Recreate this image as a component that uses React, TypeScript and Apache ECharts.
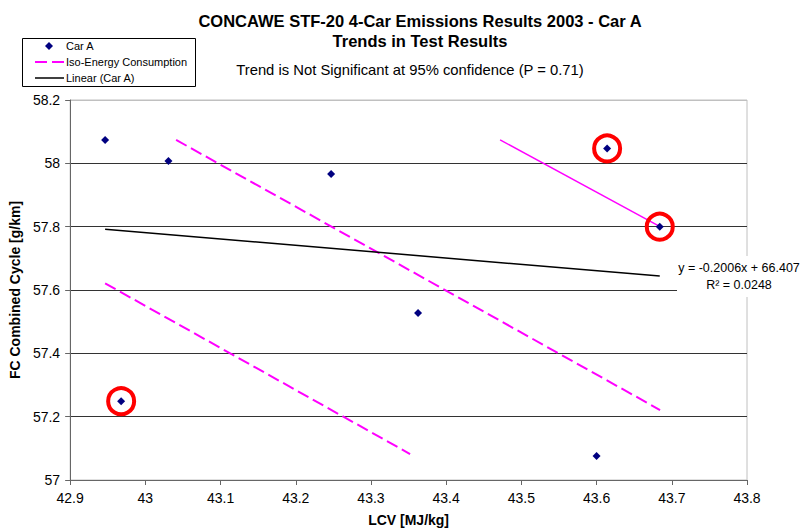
import React, { useEffect, useRef } from "react";
import * as echarts from "echarts";

// ---- Data ----
const carAX = [42.9465, 43.0307, 43.247, 43.3626, 43.614, 43.684, 42.9678, 43.6];
const carAY = [58.074, 58.007, 57.966, 57.527, 58.047, 57.8, 57.249, 57.076];
const circledIdx = [4, 5, 6];

const isoAX = [42.9465, 43.352];
const isoAY = [57.621, 57.082];
const isoBX = [43.0409, 43.6844];
const isoBY = [58.074, 57.221];
const isoCX = [43.4717, 43.6844];
const isoCY = [58.074, 57.8];

const trendX = [42.9465, 43.684];
const trendY = [57.792, 57.644];

const xMin = 42.9, xMax = 43.8, xStep = 0.1;
const yMin = 57, yMax = 58.2, yStep = 0.2;

const titleLines = [
  "CONCAWE STF-20 4-Car Emissions Results 2003 - Car A",
  "Trends in Test Results",
];
const subTitle = "Trend is Not Significant at 95% confidence (P = 0.71)";
const eqLine1 = "y = -0.2006x + 66.407";
const eqLine2 = "R\u00B2 = 0.0248";
const xName = "LCV [MJ/kg]";
const yName = "FC Combined Cycle [g/km]";
const legendNames = ["Car A", "Iso-Energy Consumption", "Linear (Car A)"];

const FONT = "'Liberation Sans', Arial, Helvetica, sans-serif";
const NAVY = "#000080";
const MAGENTA = "#FF00FF";
const DASH = [12, 5];

const pairs = (xs: number[], ys: number[]) => xs.map((x, i) => [x, ys[i]]);

export default function App() {
  const ref = useRef<HTMLDivElement>(null);
  useEffect(() => {
    if (!ref.current) return;
    const chart = echarts.init(ref.current, undefined, { renderer: "svg" });
    const carA = pairs(carAX, carAY);
    const circled = circledIdx.map((i) => carA[i]);

    // legend box (drawn as graphic for exact icon styles)
    const lgX = 22, lgY = 38, lgW = 173, lgH = 48, rowY = [46, 62, 78];
    const legendGraphic: any[] = [
      {
        type: "rect",
        shape: { x: lgX + 0.5, y: lgY + 0.5, width: lgW, height: lgH },
        style: { fill: "#fff", stroke: "#000", lineWidth: 1 },
      },
      {
        type: "polygon",
        shape: { points: [[49, rowY[0] - 4], [53, rowY[0]], [49, rowY[0] + 4], [45, rowY[0]]] },
        style: { fill: NAVY },
      },
      {
        type: "line",
        shape: { x1: 35, y1: rowY[1], x2: 64, y2: rowY[1] },
        style: { stroke: MAGENTA, lineWidth: 2, lineDash: DASH },
      },
      {
        type: "line",
        shape: { x1: 35, y1: rowY[2], x2: 64, y2: rowY[2] },
        style: { stroke: "#000", lineWidth: 1.5 },
      },
      ...legendNames.map((n, i) => ({
        type: "text",
        style: {
          text: n,
          x: 66,
          y: rowY[i],
          textAlign: "left",
          textVerticalAlign: "middle",
          fontFamily: FONT,
          fontSize: 11,
          fill: "#000",
        },
      })),
    ];

    chart.setOption({
      animation: false,
      backgroundColor: "#ffffff",
      textStyle: { fontFamily: FONT },
      grid: {
        left: 70,
        top: 100,
        right: 53,
        bottom: 52,
        show: true,
        borderColor: "#c0c0c0",
        borderWidth: 1,
      },
      xAxis: {
        type: "value",
        min: xMin,
        max: xMax,
        interval: xStep,
        name: xName,
        nameLocation: "middle",
        nameGap: 33,
        nameTextStyle: { fontFamily: FONT, fontSize: 14, fontWeight: "bold", color: "#000" },
        axisLine: { show: true, lineStyle: { color: "#666", width: 1 } },
        axisTick: { show: true, inside: false, length: 5, lineStyle: { color: "#666" } },
        axisLabel: {
          fontFamily: FONT,
          fontSize: 14,
          color: "#000",
          margin: 11,
          formatter: (v: number) => String(Math.round(v * 10) / 10),
        },
        splitLine: { show: false },
      },
      yAxis: {
        type: "value",
        min: yMin,
        max: yMax,
        interval: yStep,
        name: yName,
        nameLocation: "middle",
        nameGap: 47,
        nameTextStyle: { fontFamily: FONT, fontSize: 14, fontWeight: "bold", color: "#000" },
        axisLine: { show: true, lineStyle: { color: "#666", width: 1 } },
        axisTick: { show: true, inside: false, length: 5, lineStyle: { color: "#666" } },
        axisLabel: {
          fontFamily: FONT,
          fontSize: 14,
          color: "#000",
          margin: 10,
          formatter: (v: number) => String(Math.round(v * 10) / 10),
        },
        splitLine: {
          show: true,
          lineStyle: {
            color: ["#333", "#333", "#333", "#333", "#333", "#333", "#c0c0c0"],
            width: 1,
          },
        },
      },
      graphic: [
        {
          type: "text",
          style: {
            text: titleLines[0],
            x: 420,
            y: 21,
            textAlign: "center",
            textVerticalAlign: "middle",
            fontFamily: FONT,
            fontSize: 16.5,
            fontWeight: "bold",
            fill: "#000",
          },
        },
        {
          type: "text",
          style: {
            text: titleLines[1],
            x: 420,
            y: 41,
            textAlign: "center",
            textVerticalAlign: "middle",
            fontFamily: FONT,
            fontSize: 16.5,
            fontWeight: "bold",
            fill: "#000",
          },
        },
        {
          type: "text",
          style: {
            text: subTitle,
            x: 410,
            y: 70,
            textAlign: "center",
            textVerticalAlign: "middle",
            fontFamily: FONT,
            fontSize: 14.8,
            fill: "#000",
          },
        },
        ...legendGraphic,
        {
          type: "rect",
          z: 100,
          shape: { x: 677, y: 256, width: 123, height: 41 },
          style: { fill: "#fff" },
        },
        {
          type: "text",
          z: 101,
          style: {
            text: eqLine1,
            x: 739,
            y: 268,
            textAlign: "center",
            textVerticalAlign: "middle",
            fontFamily: FONT,
            fontSize: 12.5,
            fill: "#000",
          },
        },
        {
          type: "text",
          z: 101,
          style: {
            text: eqLine2,
            x: 739,
            y: 285,
            textAlign: "center",
            textVerticalAlign: "middle",
            fontFamily: FONT,
            fontSize: 12.5,
            fill: "#000",
          },
        },
      ],
      series: [
        {
          name: "Car A",
          type: "scatter",
          data: carA,
          symbol: "diamond",
          symbolSize: 8,
          itemStyle: { color: NAVY, opacity: 1 },
          z: 5,
        },
        {
          name: "Iso-Energy Consumption",
          type: "line",
          data: pairs(isoAX, isoAY),
          symbol: "none",
          showSymbol: false,
          lineStyle: { color: MAGENTA, width: 2, type: DASH },
          itemStyle: { color: MAGENTA },
          z: 3,
        },
        {
          name: "Iso-Energy Consumption",
          type: "line",
          data: pairs(isoBX, isoBY),
          symbol: "none",
          showSymbol: false,
          lineStyle: { color: MAGENTA, width: 2, type: DASH },
          itemStyle: { color: MAGENTA },
          z: 3,
        },
        {
          name: "Iso-Energy (circled pair)",
          type: "line",
          data: pairs(isoCX, isoCY),
          symbol: "none",
          showSymbol: false,
          lineStyle: { color: MAGENTA, width: 1.5, type: "solid" },
          itemStyle: { color: MAGENTA },
          z: 3,
        },
        {
          name: "Linear (Car A)",
          type: "line",
          data: pairs(trendX, trendY),
          symbol: "none",
          showSymbol: false,
          lineStyle: { color: "#000", width: 1.5 },
          itemStyle: { color: "#000" },
          z: 3,
        },
        {
          name: "Highlighted",
          type: "scatter",
          data: circled,
          symbol: "circle",
          symbolSize: 26,
          itemStyle: { color: "rgba(0,0,0,0)", borderColor: "#FF0000", borderWidth: 4, opacity: 1 },
          z: 4,
          silent: true,
        },
      ],
    });
    return () => chart.dispose();
  }, []);
  return (
    <div
      ref={ref}
      style={{ position: "fixed", left: 0, top: 0, width: 800, height: 532, background: "#fff" }}
    />
  );
}
